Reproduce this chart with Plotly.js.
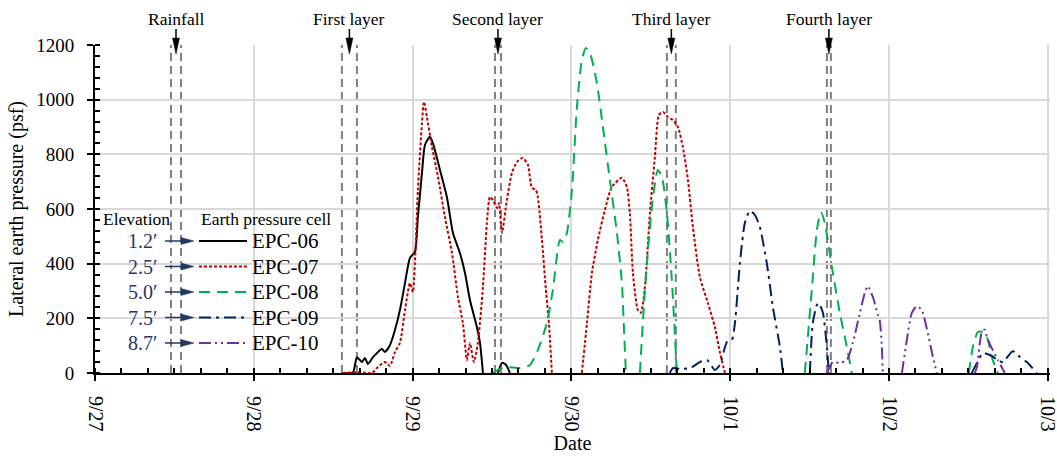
<!DOCTYPE html>
<html><head><meta charset="utf-8">
<script src="https://cdn.plot.ly/plotly-3.0.1.min.js"></script>
<style>html,body{margin:0;padding:0;background:#fff}#chart{width:1057px;height:456px}</style>
</head><body><div id="chart"></div>
<script>
// ---------- data ----------
const cellNames = ['EPC-06', 'EPC-07', 'EPC-08', 'EPC-09', 'EPC-10'];
const elevations = ['1.2\u2032', '2.5\u2032', '5.0\u2032', '7.5\u2032', '8.7\u2032'];

const epc06Time = ['2021-09-28 13:28','2021-09-28 14:59','2021-09-28 15:35','2021-09-28 16:21','2021-09-28 16:48','2021-09-28 17:15','2021-09-28 18:01','2021-09-28 19:22','2021-09-28 19:49','2021-09-28 20:35',
  '2021-09-28 21:20','2021-09-28 22:05','2021-09-28 22:51','2021-09-28 23:36','2021-09-29 00:21','2021-09-29 00:48','2021-09-29 01:25','2021-09-29 01:52','2021-09-29 02:37','2021-09-29 03:04',
  '2021-09-29 04:08','2021-09-29 05:11','2021-09-29 06:06','2021-09-29 07:09','2021-09-29 07:55','2021-09-29 08:40','2021-09-29 09:43','2021-09-29 10:11','2021-09-29 10:38',null,
  '2021-09-29 12:54','2021-09-29 13:30','2021-09-29 14:06','2021-09-29 14:43'];
const epc06Val = [0,2,58,40,55,33,58,88,77,102,
  157,230,329,421,443,571,732,834,864,841,
  743,644,512,439,366,267,168,110,0,null,
  0,37,30,0];

const epc07Time = ['2021-09-28 13:28','2021-09-28 16:03','2021-09-28 17:52','2021-09-28 18:46','2021-09-28 19:49','2021-09-28 20:35','2021-09-28 21:20','2021-09-28 22:05','2021-09-28 22:51','2021-09-28 23:36',
  '2021-09-29 00:03','2021-09-29 00:21','2021-09-29 00:48','2021-09-29 01:25','2021-09-29 01:43','2021-09-29 02:10','2021-09-29 02:55','2021-09-29 03:50','2021-09-29 04:53','2021-09-29 05:57',
  '2021-09-29 06:51','2021-09-29 07:36','2021-09-29 08:13','2021-09-29 08:40','2021-09-29 09:16','2021-09-29 09:52','2021-09-29 10:38','2021-09-29 11:14','2021-09-29 11:41','2021-09-29 12:08',
  '2021-09-29 12:45','2021-09-29 13:03','2021-09-29 13:30','2021-09-29 14:15','2021-09-29 15:01','2021-09-29 15:46','2021-09-29 16:40','2021-09-29 17:26','2021-09-29 18:02','2021-09-29 18:38',
  '2021-09-29 18:56','2021-09-29 19:33','2021-09-29 20:09','2021-09-29 20:36','2021-09-29 21:03',null,
  '2021-09-30 01:35','2021-09-30 02:21','2021-09-30 03:06','2021-09-30 04:00','2021-09-30 05:04','2021-09-30 06:07','2021-09-30 07:38','2021-09-30 08:23','2021-09-30 08:50','2021-09-30 09:18',
  '2021-09-30 10:03','2021-09-30 10:30','2021-09-30 11:07','2021-09-30 11:52','2021-09-30 12:37','2021-09-30 13:13','2021-09-30 13:50','2021-09-30 14:35','2021-09-30 15:20','2021-09-30 16:06',
  '2021-09-30 16:51','2021-09-30 17:37','2021-09-30 18:22','2021-09-30 19:25','2021-09-30 20:38','2021-09-30 21:41','2021-09-30 22:26','2021-09-30 23:12'];
const epc07Val = [0,3,0,22,40,26,77,110,230,329,
  296,402,670,914,992,937,828,718,571,439,
  278,183,48,110,40,110,315,549,644,633,
  604,622,512,633,732,772,787,761,677,670,
  644,487,304,183,0,null,
  0,183,366,487,597,681,714,681,585,366,
  230,220,315,585,790,944,955,937,926,900,
  827,706,534,351,256,168,77,0];

const epc08Time = ['2021-09-29 12:08','2021-09-29 13:12','2021-09-29 14:15','2021-09-29 16:13','2021-09-29 17:44','2021-09-29 18:56','2021-09-29 20:18','2021-09-29 21:12','2021-09-29 22:16','2021-09-29 22:43',
  '2021-09-29 23:19','2021-09-30 00:05','2021-09-30 00:50','2021-09-30 01:35','2021-09-30 02:11','2021-09-30 02:48','2021-09-30 03:51','2021-09-30 04:46','2021-09-30 05:49','2021-09-30 06:53',
  '2021-09-30 07:38','2021-09-30 07:56','2021-09-30 08:14',null,
  '2021-09-30 10:21','2021-09-30 11:07','2021-09-30 12:10','2021-09-30 13:04','2021-09-30 13:41','2021-09-30 14:26','2021-09-30 15:11','2021-09-30 15:57',null,
  '2021-10-01 11:17','2021-10-01 12:20','2021-10-01 13:06','2021-10-01 13:42','2021-10-01 14:18','2021-10-01 15:22','2021-10-01 16:34','2021-10-01 17:38','2021-10-01 18:23',null,
  '2021-10-02 12:04','2021-10-02 12:40','2021-10-02 13:26','2021-10-02 14:11','2021-10-02 14:47','2021-10-02 15:41','2021-10-02 16:27'];
const epc08Val = [0,15,22,18,29,84,183,304,487,479,
  512,670,973,1145,1189,1171,1061,900,706,512,
  329,168,0,null,
  0,304,608,743,718,585,340,0,null,
  0,304,523,589,549,388,220,95,0,null,
  0,95,150,150,132,48,0];

const epc09Time = ['2021-09-30 14:53','2021-09-30 15:20','2021-09-30 16:24','2021-09-30 17:55','2021-09-30 19:25','2021-09-30 20:29','2021-09-30 21:41','2021-09-30 22:26','2021-09-30 23:30','2021-10-01 00:15',
  '2021-10-01 00:43','2021-10-01 01:28','2021-10-01 02:13','2021-10-01 02:58','2021-10-01 03:44','2021-10-01 04:29','2021-10-01 05:32','2021-10-01 06:27','2021-10-01 07:31','2021-10-01 07:58',null,
  '2021-10-01 12:02','2021-10-01 12:29','2021-10-01 13:06','2021-10-01 13:24','2021-10-01 14:01','2021-10-01 14:37','2021-10-01 14:55',null,
  '2021-10-02 12:31','2021-10-02 13:17','2021-10-02 14:11','2021-10-02 15:14','2021-10-02 16:27','2021-10-02 17:12','2021-10-02 18:43','2021-10-02 19:46','2021-10-02 20:50','2021-10-02 22:20'];
const epc09Val = [0,18,15,18,40,48,11,29,113,121,
  183,402,549,593,578,534,402,241,95,0,null,
  0,183,249,256,220,95,0,null,
  0,37,73,66,48,40,80,59,40,0];

const epc10Time = ['2021-10-01 14:37','2021-10-01 15:31','2021-10-01 16:34','2021-10-01 17:38','2021-10-01 18:32','2021-10-01 19:36','2021-10-01 20:21','2021-10-01 20:48','2021-10-01 21:34','2021-10-01 22:19',
  '2021-10-01 22:37','2021-10-01 22:55','2021-10-01 23:04',null,
  '2021-10-02 01:57','2021-10-02 02:42','2021-10-02 03:27','2021-10-02 04:13','2021-10-02 04:58','2021-10-02 05:52','2021-10-02 06:38','2021-10-02 07:14',null,
  '2021-10-02 12:59','2021-10-02 13:17','2021-10-02 14:02','2021-10-02 14:29','2021-10-02 14:47','2021-10-02 15:32','2021-10-02 16:27','2021-10-02 17:30'];
const epc10Val = [0,40,37,48,110,220,293,318,278,212,
  190,95,0,null,
  0,121,220,245,230,146,59,0,null,
  0,22,150,158,132,91,48,0];

const eventLabels = ['Rainfall', 'First layer', 'Second layer', 'Third layer', 'Fourth layer'];
const eventStart = ['2021-09-27 11:29','2021-09-28 13:19','2021-09-29 12:27','2021-09-30 14:26','2021-10-01 14:37'];
const eventEnd   = ['2021-09-27 13:00','2021-09-28 15:35','2021-09-29 13:21','2021-09-30 15:47','2021-10-01 15:13'];

// ---------- styling ----------
const FONT = 'Liberation Serif, "Times New Roman", Times, serif';
const colors = ['#000000', '#c00000', '#00b050', '#002060', '#7030a0'];
const dashes = ['solid', '3px,2px', '11px,7px', '12px,5px,3px,5px', '12px,4px,2px,4px,2px,4px'];
const times = [epc06Time, epc07Time, epc08Time, epc09Time, epc10Time];
const vals = [epc06Val, epc07Val, epc08Val, epc09Val, epc10Val];

const traces = cellNames.map((n, i) => ({
  type: 'scatter', mode: 'lines', name: n,
  x: times[i], y: vals[i], connectgaps: false,
  line: {color: colors[i], width: 2, dash: dashes[i], shape: 'spline', smoothing: 0.6},
  hoverinfo: 'x+y+name'
}));

function toMs(s) { return Date.parse(s.replace(' ', 'T') + 'Z'); }
function fromMs(ms) { return new Date(ms).toISOString().slice(0, 19).replace('T', ' '); }

const H = 328, W = 955;
const py = p => (373 - p) / H;   // pixel row -> paper y
const px = p => (p - 95) / W;    // pixel col -> paper x

const shapes = [];
const annotations = [];

eventLabels.forEach((lab, i) => {
  [eventStart[i], eventEnd[i]].forEach(t => shapes.push({
    type: 'line', xref: 'x', yref: 'paper', x0: t, x1: t, y0: 0, y1: 1, layer: 'below',
    line: {color: '#7f7f7f', width: 2, dash: '8px,5px'}
  }));
  const mid = fromMs((toMs(eventStart[i]) + toMs(eventEnd[i])) / 2);
  annotations.push({xref: 'x', yref: 'paper', x: mid, y: py(19), text: lab, showarrow: false,
    xanchor: 'center', yanchor: 'middle', font: {family: FONT, size: 17.5, color: '#000'}});
  shapes.push({type: 'line', xref: 'x', yref: 'paper', x0: mid, x1: mid, y0: py(29), y1: py(40),
    line: {color: '#000', width: 1.5}});
  shapes.push({type: 'path', xref: 'x', yref: 'paper', xsizemode: 'pixel', ysizemode: 'pixel',
    xanchor: mid, yanchor: py(54), path: 'M-3.5,16 L3.5,16 L0,0 Z',
    fillcolor: '#000', line: {color: '#000', width: 0.5}});
});

// legend block: headers, elevations, arrows, line samples, cell names
annotations.push({xref: 'paper', yref: 'paper', x: px(136), y: py(219), text: 'Elevation', showarrow: false,
  xanchor: 'center', yanchor: 'middle', font: {family: FONT, size: 17.5, color: '#000'}});
annotations.push({xref: 'paper', yref: 'paper', x: px(266), y: py(219), text: 'Earth pressure cell', showarrow: false,
  xanchor: 'center', yanchor: 'middle', font: {family: FONT, size: 17.5, color: '#000'}});
const rowPx = [241, 266.5, 292, 317.5, 343];
cellNames.forEach((n, i) => {
  const yy = py(rowPx[i]);
  annotations.push({xref: 'paper', yref: 'paper', x: px(159), y: yy, text: elevations[i], showarrow: false,
    xanchor: 'right', yanchor: 'middle', font: {family: FONT, size: 20, color: '#1f3864'}});
  shapes.push({type: 'line', xref: 'paper', yref: 'paper', x0: px(165), x1: px(183), y0: yy, y1: yy,
    line: {color: '#1f3864', width: 1.5}});
  shapes.push({type: 'path', xref: 'paper', yref: 'paper', xsizemode: 'pixel', ysizemode: 'pixel',
    xanchor: px(194), yanchor: yy, path: 'M-13,-3.5 L-13,3.5 L0,0 Z',
    fillcolor: '#1f3864', line: {color: '#1f3864', width: 0.5}});
  shapes.push({type: 'line', xref: 'paper', yref: 'paper', x0: px(199), x1: px(247), y0: yy, y1: yy,
    line: {color: colors[i], width: 2, dash: dashes[i]}});
  annotations.push({xref: 'paper', yref: 'paper', x: px(250), y: yy, text: n, showarrow: false,
    xanchor: 'left', yanchor: 'middle', font: {family: FONT, size: 21, color: '#000'}});
});

const layout = {
  width: 1057, height: 456,
  margin: {l: 95, r: 7, t: 45, b: 83},
  paper_bgcolor: '#fff', plot_bgcolor: '#fff',
  font: {family: FONT, color: '#000'},
  showlegend: false,
  xaxis: {
    type: 'date', range: ['2021-09-27 00:00', '2021-10-03 00:20'],
    dtick: 86400000, tick0: '2021-09-27', tickformat: '%-m/%-d', tickangle: 90,
    tickfont: {family: FONT, size: 20, color: '#000'}, ticklabeloverflow: 'allow',
    ticks: 'outside', ticklen: 6, tickwidth: 1.5, tickcolor: '#000', ticklabelstandoff: 11,
    minor: {dtick: 14400000, ticks: 'inside', ticklen: 5, tickwidth: 1.5, tickcolor: '#000', showgrid: false},
    showgrid: true, gridcolor: '#d9d9d9', gridwidth: 1.5,
    showline: true, linecolor: '#000', linewidth: 2, zeroline: false,
    title: {text: 'Date', font: {family: FONT, size: 20, color: '#000'}, standoff: 2},
    automargin: false
  },
  yaxis: {
    range: [0, 1200], dtick: 200, tick0: 0,
    tickfont: {family: FONT, size: 19, color: '#000'},
    ticks: 'outside', ticklen: 6, tickwidth: 1.5, tickcolor: '#000', ticklabelstandoff: 9,
    minor: {dtick: 40, ticks: 'inside', ticklen: 5, tickwidth: 1.5, tickcolor: '#000', showgrid: false},
    showgrid: true, gridcolor: '#d9d9d9', gridwidth: 1.5,
    showline: true, linecolor: '#000', linewidth: 2, zeroline: false,
    title: {text: 'Lateral earth pressure (psf)', font: {family: FONT, size: 20, color: '#000'}, standoff: 7},
    automargin: false
  },
  shapes: shapes,
  annotations: annotations
};

Plotly.newPlot('chart', traces, layout, {displayModeBar: false, responsive: false});
</script>
</body></html>
